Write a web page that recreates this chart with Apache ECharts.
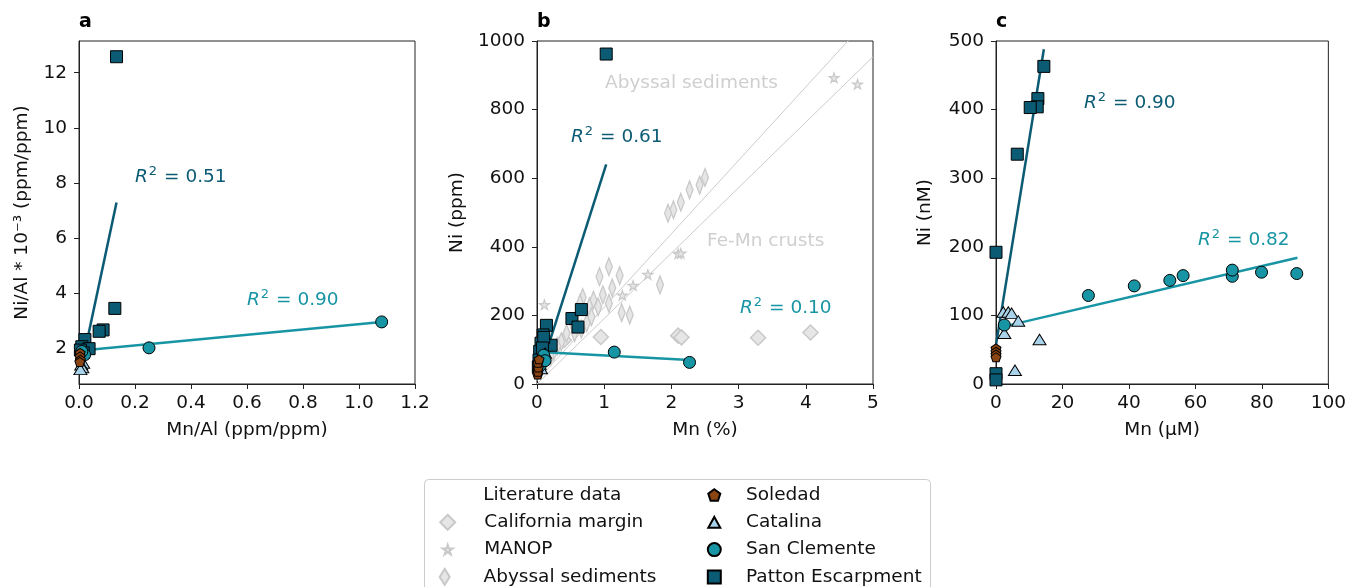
<!DOCTYPE html>
<html>
<head>
<meta charset="utf-8">
<title>Ni vs Mn</title>
<script src="https://cdn.jsdelivr.net/npm/echarts@6.0.0/dist/echarts.min.js"></script>
<style>
  html, body { margin: 0; padding: 0; background: #fff; }
  #chart { width: 1349px; height: 587px; }
</style>
</head>
<body>
<div id="chart"></div>
<script>
// ---- panel a : Ni/Al vs Mn/Al ----
var pattonA = [[0.134, 12.58], [0.128, 3.46], [0.086, 2.68], [0.072, 2.63], [0.021, 2.33], [0.010, 2.07], [0.036, 2.00], [0.015, 1.85], [0.005, 1.95]];
var clementeA = [[1.081, 2.97], [0.25, 2.03], [0.02, 1.78], [0.01, 1.90]];
var soledadA = [[0.004, 1.85], [0.004, 1.72], [0.005, 1.60], [0.003, 1.52]];
var catalinaA = [[0.015, 1.48], [0.008, 1.42], [0.012, 1.32], [0.005, 1.25]];
var pattonFitA = [[0.005, 1.15], [0.134, 7.30]];
var clementeFitA = [[0.01, 1.93], [1.081, 2.97]];
var yTicksA = [2, 4, 6, 8, 10, 12];

// ---- panel b : Ni vs Mn (sediment) ----
var pattonB = [[1.03, 962], [0.52, 191], [0.66, 217], [0.61, 166], [0.14, 171], [0.09, 143], [0.06, 119], [0.21, 113], [0.10, 136], [0.04, 95], [0.03, 70], [0.08, 105], [0.02, 50]];
var clementeB = [[2.27, 63], [1.15, 93], [0.10, 84], [0.05, 55], [0.12, 68]];
var soledadB = [[0.01, 28], [0.015, 36], [0.02, 48], [0.015, 62], [0.03, 72]];
var catalinaB = [[0.04, 58], [0.09, 75], [0.06, 45], [0.12, 90]];
var californiaB = [[4.07, 150], [3.29, 135], [2.10, 141], [2.15, 136], [0.95, 137], [0.40, 128]];
var manopB = [[4.42, 893], [4.77, 874], [2.10, 380], [2.14, 381], [1.65, 319], [1.43, 287], [1.27, 259], [0.11, 231]];
var abyssalB = [[2.50, 602], [2.42, 580], [2.27, 566], [2.14, 530], [2.03, 508], [1.95, 498],
  [1.83, 289], [1.23, 316], [1.07, 342], [0.93, 313], [1.12, 280], [0.98, 260], [0.84, 245], [1.07, 235],
  [1.26, 208], [1.38, 201], [0.68, 252], [0.64, 235], [0.78, 225], [0.91, 225], [0.54, 172], [0.44, 148],
  [0.36, 123], [0.56, 150], [0.66, 160], [0.74, 178], [0.81, 196], [0.30, 110], [0.25, 95], [0.20, 80]];
var abyssalLineB = [[0, 10], [5, 1080]];
var crustLineB = [[0, 0], [5, 954]];
var pattonFitB = [[0.02, 20], [1.03, 640]];
var clementeFitB = [[0.05, 93], [2.27, 70]];

// ---- panel c : Ni vs Mn (porewater) ----
var pattonC = [[14.4, 463], [12.6, 416], [12.4, 404], [10.3, 403], [6.4, 335], [0, 192], [0, 15], [0, 6]];
var clementeC = [[27.8, 129], [41.6, 143], [52.3, 151], [56.3, 158], [71.1, 157], [71.1, 166], [79.9, 163], [90.5, 161], [2.5, 86]];
var catalinaC = [[2.2, 105], [3.7, 105], [4.7, 103], [6.7, 92], [2.5, 74], [13.1, 65], [5.7, 20]];
var soledadC = [[0, 52], [0, 47], [0, 43], [0, 39]];
var pattonFitC = [[0, 57], [14.4, 488]];
var clementeFitC = [[2.5, 84], [90.7, 184]];

// colours
var PATTON = '#0c5b74', CLEM = '#1895a5', SOLE = '#8b4513', CATA = '#a9d3ea';
var LIT_FILL = '#e6e6e6', LIT_EDGE = '#c9c9c9', INK = '#111';

// marker shapes
var SQUARE = 'path://M0,0L10,0L10,10L0,10Z';
var TRIANGLE = 'path://M5,0L10,9L0,9Z';
var DIAMOND = 'path://M5,0L10,5L5,10L0,5Z';
var THIN_DIAMOND = 'path://M5,0L10,8L5,16L0,8Z';
var STAR = 'path://M100,0L122.45,69.1L195.1,69.1L136.3,111.8L158.8,180.9L100,138.2L41.2,180.9L63.7,111.8L4.9,69.1L77.55,69.1Z';
var PENTAGON = 'path://M100,0L195.1,69.1L158.8,180.9L41.2,180.9L4.9,69.1Z';

var FONT = 'DejaVu Sans';
var FS = 18.5;

function xAxis(gi, min, max, interval, name, digits) {
  return {
    type: 'value', gridIndex: gi, min: min, max: max, interval: interval,
    name: name, nameLocation: 'middle', nameGap: 37,
    nameTextStyle: { fontSize: FS, color: INK, fontFamily: FONT },
    axisLine: { show: true, onZero: false, lineStyle: { color: '#222', width: 1 } },
    axisTick: { show: true, inside: false, length: 5, lineStyle: { color: '#222' } },
    splitLine: { show: false },
    axisLabel: { fontSize: FS, color: INK, margin: 10, fontFamily: FONT,
      formatter: function (v) { return v.toFixed(digits); } }
  };
}

function yAxis(gi, min, max, interval, name, gap, custom) {
  var ax = {
    type: 'value', gridIndex: gi, min: min, max: max,
    name: name, nameLocation: 'middle', nameGap: gap,
    nameTextStyle: { fontSize: FS, color: INK, fontFamily: FONT },
    axisLine: { show: true, onZero: false, lineStyle: { color: '#222', width: 1 } },
    axisTick: { show: true, inside: false, length: 5, lineStyle: { color: '#222' } },
    splitLine: { show: false },
    axisLabel: { fontSize: FS, color: INK, margin: 12, fontFamily: FONT,
      formatter: function (v) { return String(v); } }
  };
  if (custom) {
    ax.axisLabel.customValues = custom;
    ax.axisTick.customValues = custom;
  } else {
    ax.interval = interval;
  }
  return ax;
}

function dots(name, gi, data, symbol, size, fill, edge, z, bw) {
  return {
    type: 'scatter', name: name, xAxisIndex: gi, yAxisIndex: gi, data: data,
    symbol: symbol, symbolSize: size, symbolKeepAspect: true,
    itemStyle: { color: fill, borderColor: edge, borderWidth: bw || 1, opacity: 1 },
    z: z, silent: true, emphasis: { disabled: true }
  };
}

function fit(gi, data, color, width, z) {
  return {
    type: 'line', name: 'fit', xAxisIndex: gi, yAxisIndex: gi, data: data,
    symbol: 'none', lineStyle: { color: color, width: width }, z: z, silent: true,
    emphasis: { disabled: true }, clip: true
  };
}

var series = [
  // b literature data
  fit(1, abyssalLineB, '#cccccc', 1, 1),
  fit(1, crustLineB, '#cccccc', 1, 1),
  dots('California margin', 1, californiaB, DIAMOND, [15, 15], LIT_FILL, LIT_EDGE, 2, 1.5),
  dots('MANOP', 1, manopB, STAR, [10, 10], LIT_FILL, LIT_EDGE, 2, 1.2),
  dots('Abyssal sediments', 1, abyssalB, THIN_DIAMOND, [11, 17.6], LIT_FILL, LIT_EDGE, 2, 1.5),
  // regression lines
  fit(0, pattonFitA, PATTON, 2.5, 3),
  fit(0, clementeFitA, CLEM, 2.5, 3),
  fit(1, pattonFitB, PATTON, 2.5, 3),
  fit(1, clementeFitB, CLEM, 2.5, 3),
  fit(2, pattonFitC, PATTON, 2.5, 3),
  fit(2, clementeFitC, CLEM, 2.5, 3)
];

// sample sites, per panel
[[pattonA, catalinaA, clementeA, soledadA],
 [pattonB, catalinaB, clementeB, soledadB],
 [pattonC, catalinaC, clementeC, soledadC]].forEach(function (sets, gi) {
  series.push(dots('Patton Escarpment', gi, sets[0], SQUARE, [12, 12], PATTON, '#000', 4));
  series.push(dots('Catalina', gi, sets[1], TRIANGLE, [13, 11.7], CATA, '#000', 4));
  series.push(dots('San Clemente', gi, sets[2], 'circle', 12, CLEM, '#000', 4));
  series.push(dots('Soledad', gi, sets[3], PENTAGON, [10, 9.5], SOLE, '#000', 4));
});

// legend, one small legend per row; icon box = icon size, text pushed by padding
var legendRows = [
  { name: 'California margin', icon: DIAMOND, cx: 446.7, tx: 483.3, cy: 522.3, w: 15 },
  { name: 'MANOP', icon: STAR, cx: 446.7, tx: 483.3, cy: 549.6, w: 10 },
  { name: 'Abyssal sediments', icon: THIN_DIAMOND, cx: 446.7, tx: 485.5, cy: 576.9, w: 16 },
  { name: 'Soledad', icon: PENTAGON, cx: 713.3, tx: 745, cy: 495, w: 12 },
  { name: 'Catalina', icon: TRIANGLE, cx: 713.3, tx: 745, cy: 522.3, w: 12 },
  { name: 'San Clemente', icon: 'circle', cx: 713.3, tx: 745, cy: 549.6, w: 13 },
  { name: 'Patton Escarpment', icon: SQUARE, cx: 713.3, tx: 745, cy: 576.9, w: 13 }
];
var legends = legendRows.map(function (r) {
  var pad = r.tx - (r.cx + r.w / 2) - 5;
  return {
    data: [{ name: r.name, icon: r.icon }],
    left: r.cx - r.w / 2, top: r.cy - 11, padding: 0, orient: 'horizontal',
    itemWidth: r.w, itemHeight: r.w, itemGap: 0, selectedMode: false,
    textStyle: { fontSize: FS, color: INK, fontFamily: FONT, lineHeight: 22, padding: [0, 0, 0, pad] }
  };
});

function r2(x, y, val, color) {
  return {
    type: 'text', x: x, y: y, silent: true,
    style: {
      text: '{i|R}{s|2} = ' + val, fill: color, fontSize: FS, fontFamily: FONT, verticalAlign: 'middle',
      rich: {
        i: { fontStyle: 'italic', fontSize: FS, fontFamily: FONT, fill: color },
        s: { fontSize: 13, fontFamily: FONT, fill: color, padding: [0, 1, 11, 1] }
      }
    }
  };
}

function note(x, y, text, color, weight, size) {
  return {
    type: 'text', x: x, y: y, silent: true,
    style: { text: text, fill: color, fontSize: size || FS, fontFamily: FONT, fontWeight: weight || 'normal', verticalAlign: 'middle' }
  };
}

var chart = echarts.init(document.getElementById('chart'));
chart.setOption({
  animation: false,
  backgroundColor: '#fff',
  textStyle: { fontFamily: FONT },
  grid: [
    { left: 79, top: 41, width: 336, height: 343, show: true, borderColor: '#222', borderWidth: 1, containLabel: false },
    { left: 537, top: 41, width: 336, height: 343, show: true, borderColor: '#222', borderWidth: 1, containLabel: false },
    { left: 996, top: 41, width: 336, height: 343, show: true, borderColor: '#222', borderWidth: 1, containLabel: false }
  ],
  xAxis: [
    xAxis(0, 0, 1.2, 0.2, 'Mn/Al (ppm/ppm)', 1),
    xAxis(1, 0, 5, 1, 'Mn (%)', 0),
    xAxis(2, 0, 100, 20, 'Mn (µM)', 0)
  ],
  yAxis: [
    yAxis(0, 0.72, 13.15, null, 'Ni/Al * 10⁻³ (ppm/ppm)', 47, yTicksA),
    yAxis(1, 0, 1000, 200, 'Ni (ppm)', 70),
    yAxis(2, 0, 500, 100, 'Ni (nM)', 61)
  ],
  legend: legends,
  series: series,
  graphic: [
    { type: 'rect', shape: { x: 424.5, y: 479.5, width: 506, height: 130, r: 4 }, style: { fill: 'transparent', stroke: '#cccccc', lineWidth: 1 }, silent: true },
    note(483.3, 495, 'Literature data', INK),
    note(79, 22, 'a', '#000', 'bold', 19),
    note(537, 22, 'b', '#000', 'bold', 19),
    note(996, 22, 'c', '#000', 'bold', 19),
    r2(135, 177, '0.51', PATTON),
    r2(247, 300, '0.90', CLEM),
    r2(571, 137, '0.61', PATTON),
    r2(740, 308, '0.10', CLEM),
    r2(1084, 103, '0.90', PATTON),
    r2(1198, 240, '0.82', CLEM),
    note(605, 83, 'Abyssal sediments', '#cfcfcf'),
    note(707, 241, 'Fe-Mn crusts', '#cfcfcf')
  ]
});
</script>
</body>
</html>
